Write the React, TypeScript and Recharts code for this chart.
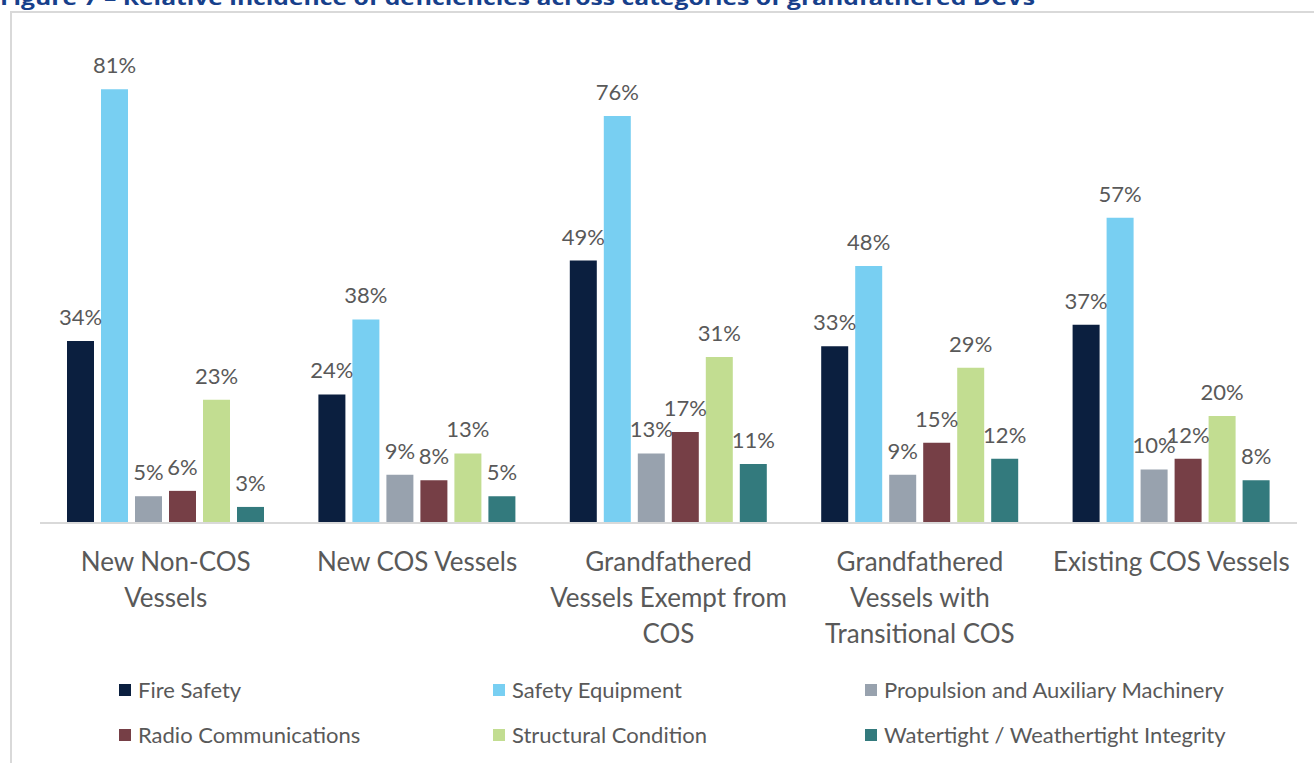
import React from "react";
import { BarChart, Bar, XAxis, YAxis, LabelList, Legend } from "recharts";

const categories = [
  "New Non-COS Vessels",
  "New COS Vessels",
  "Grandfathered Vessels Exempt from COS",
  "Grandfathered Vessels with Transitional COS",
  "Existing COS Vessels",
];
const categoryLines: string[][] = [
  ["New Non-COS", "Vessels"],
  ["New COS Vessels"],
  ["Grandfathered", "Vessels Exempt from", "COS"],
  ["Grandfathered", "Vessels with", "Transitional COS"],
  ["Existing COS Vessels"],
];
const fireSafety = [34, 24, 49, 33, 37];
const safetyEquipment = [81, 38, 76, 48, 57];
const propulsion = [5, 9, 13, 9, 10];
const radioCommunications = [6, 8, 17, 15, 12];
const structuralCondition = [23, 13, 31, 29, 20];
const watertight = [3, 5, 11, 12, 8];

const seriesNames = [
  "Fire Safety",
  "Safety Equipment",
  "Propulsion and Auxiliary Machinery",
  "Radio Communications",
  "Structural Condition",
  "Watertight / Weathertight Integrity",
];
const seriesKeys = ["fire", "safety", "propulsion", "radio", "structural", "watertight"];
const seriesValues = [fireSafety, safetyEquipment, propulsion, radioCommunications, structuralCondition, watertight];
const seriesColors = ["#0B1F3F", "#78CFF2", "#98A2AE", "#763F46", "#C2DD91", "#337A7D"];
const titleText = "Figure 7 – Relative incidence of deficiencies across categories of grandfathered DCVs";

const data = categories.map((name, i) => {
  const row: Record<string, any> = { name };
  seriesKeys.forEach((k, s) => {
    row[k] = seriesValues[s][i];
  });
  return row;
});

const FONT = "Lato, 'Open Sans', sans-serif";
const TEXT_COLOR = "#595959";

const CategoryTick = (props: any) => {
  const { x, y, index } = props;
  const lines = categoryLines[index] || [];
  return (
    <g>
      {lines.map((l, i) => (
        <text
          key={i}
          x={x}
          y={y + 40 + i * 36}
          textAnchor="middle"
          fill={TEXT_COLOR}
          fontSize={26}
          fontFamily={FONT}
        >
          {l}
        </text>
      ))}
    </g>
  );
};

const legendCols = [119, 493, 865];
const legendRows = [690, 735];

const LegendContent = () => (
  <div style={{ position: "relative", width: 1314, height: 90 }}>
    {seriesNames.map((n, i) => {
      const col = i % 3;
      const row = Math.floor(i / 3);
      return (
        <div
          key={n}
          style={{
            position: "absolute",
            left: legendCols[col],
            top: legendRows[row] - 660 - 15,
            display: "flex",
            alignItems: "center",
            fontFamily: FONT,
            fontSize: 22,
            color: TEXT_COLOR,
            whiteSpace: "nowrap",
            height: 30,
            lineHeight: "30px",
          }}
        >
          <span
            style={{
              display: "inline-block",
              width: 12,
              height: 12,
              background: seriesColors[i],
              marginRight: 7,
            }}
          />
          {n}
        </div>
      );
    })}
  </div>
);

export default function App() {
  return (
    <div
      style={{
        position: "absolute",
        left: 0,
        top: 0,
        width: 1314,
        height: 763,
        overflow: "hidden",
        background: "#fff",
      }}
    >
      <svg width={1314} height={20} style={{ position: "absolute", left: 0, top: 0 }}>
        <text
          x={0}
          y={5}
          fontSize={20}
          fontWeight="bold"
          fill="#17408B"
          fontFamily="'Open Sans', sans-serif"
          textLength={1035}
          lengthAdjust="spacingAndGlyphs"
        >
          {titleText}
        </text>
      </svg>
      <div
        style={{
          position: "absolute",
          left: 10,
          top: 11,
          width: 1400,
          height: 800,
          borderLeft: "2px solid #D9D9D9",
          borderTop: "2px solid #D9D9D9",
        }}
      />
      <div style={{ position: "absolute", left: 0, top: 0 }}>
        <BarChart
          width={1314}
          height={763}
          data={data}
          margin={{ top: 41, right: 17, left: 40, bottom: 120 }}
          barCategoryGap={27}
          barGap={7}
        >
          <XAxis
            dataKey="name"
            height={120}
            tickLine={false}
            axisLine={{ stroke: "#D9D9D9", strokeWidth: 2 }}
            tick={<CategoryTick />}
            interval={0}
          />
          <YAxis hide domain={[0, 90]} />
          <Legend
            layout="horizontal"
            verticalAlign="middle"
            align="center"
            content={<LegendContent />}
            wrapperStyle={{ position: "absolute", left: 0, top: 660, width: 1314, height: 90 }}
          />
          {seriesKeys.map((k, i) => (
            <Bar
              key={k}
              dataKey={k}
              name={seriesNames[i]}
              fill={seriesColors[i]}
              isAnimationActive={false}
            >
              <LabelList
                dataKey={k}
                position="top"
                offset={16}
                formatter={(v: any) => `${v}%`}
                fill={TEXT_COLOR}
                fontSize={22}
                fontFamily={FONT}
              />
            </Bar>
          ))}
        </BarChart>
      </div>
    </div>
  );
}
